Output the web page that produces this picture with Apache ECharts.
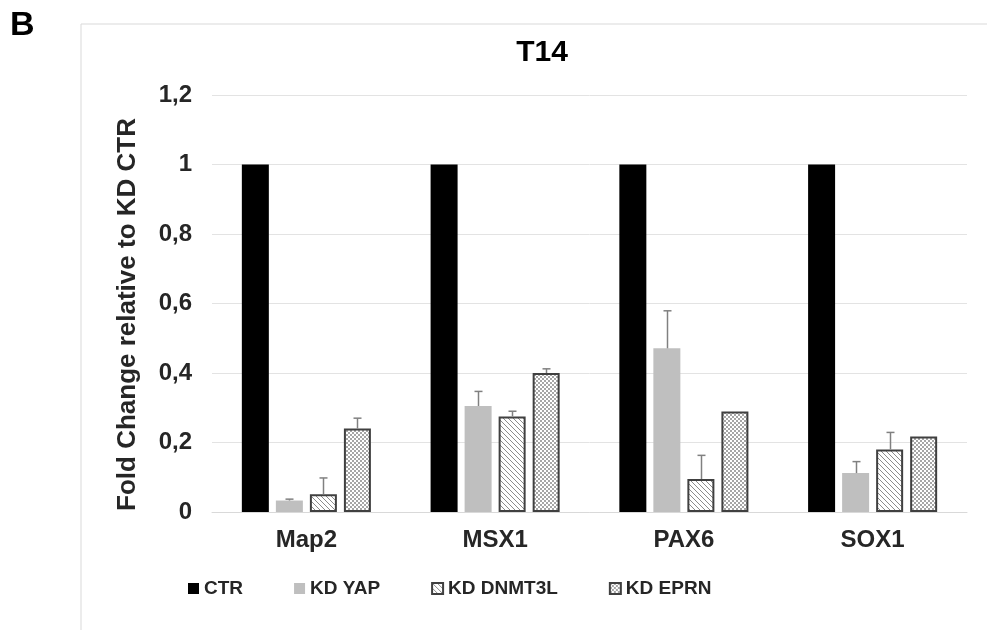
<!DOCTYPE html>
<html>
<head>
<meta charset="utf-8">
<script src="https://cdn.jsdelivr.net/npm/echarts@6/dist/echarts.min.js"></script>
<style>
  html, body { margin: 0; padding: 0; background: #fff; }
  #chart { width: 987px; height: 630px; }
</style>
</head>
<body>
<div id="chart"></div>
<script>
// data
const genes = ['Map2', 'MSX1', 'PAX6', 'SOX1'];
const seriesNames = ['CTR', 'KD YAP', 'KD DNMT3L', 'KD EPRN'];
const ctrValues = [1, 1, 1, 1];
const yapValues = [0.033, 0.305, 0.471, 0.112];
const dnmt3lValues = [0.051, 0.275, 0.095, 0.18];
const eprnValues = [0.24, 0.4, 0.289, 0.217];
const yapErrors = [0.004, 0.042, 0.108, 0.033];
const dnmt3lErrors = [0.047, 0.015, 0.068, 0.049];
const eprnErrors = [0.03, 0.012, 0, 0];

const barWidth = 27;
const barStep = 34;

// hatch pattern (diagonal lines)
function makeHatch() {
  const s = 5;
  const c = document.createElement('canvas');
  c.width = s; c.height = s;
  const ctx = c.getContext('2d');
  ctx.fillStyle = '#fff';
  ctx.fillRect(0, 0, s, s);
  ctx.strokeStyle = '#8c8c8c';
  ctx.lineWidth = 1;
  for (let k = -s; k <= s; k += s) {
    ctx.beginPath();
    ctx.moveTo(k, 0);
    ctx.lineTo(k + s, s);
    ctx.stroke();
  }
  return c;
}

// checker pattern
function makeChecker() {
  const c = document.createElement('canvas');
  c.width = 4; c.height = 4;
  const ctx = c.getContext('2d');
  ctx.fillStyle = '#fff';
  ctx.fillRect(0, 0, 4, 4);
  ctx.fillStyle = '#a6a6a6';
  ctx.fillRect(0, 0, 2, 2);
  ctx.fillRect(2, 2, 2, 2);
  return c;
}

const myChart = echarts.init(document.getElementById('chart'));

const allValues = [ctrValues, yapValues, dnmt3lValues, eprnValues];
const allErrors = [null, yapErrors, dnmt3lErrors, eprnErrors];
const errorData = [];
allErrors.forEach((errs, si) => {
  if (!errs) return;
  errs.forEach((e, ci) => {
    if (e > 0) errorData.push([ci, allValues[si][ci], e, si]);
  });
});

const fmt = v => {
  if (v === 0) return '0';
  return String(Number(v.toFixed(1))).replace('.', ',');
};

const labelFont = { fontFamily: 'Liberation Sans, Arial, sans-serif', fontWeight: 'bold', color: '#262626' };

const option = {
  animation: false,
  backgroundColor: '#fff',
  title: {
    text: 'T14',
    left: 537,
    top: 33,
    textAlign: 'center',
    textStyle: { ...labelFont, fontSize: 30, color: '#000' }
  },
  legend: {
    data: seriesNames,
    left: 183,
    top: 574,
    icon: 'rect',
    itemWidth: 11,
    itemHeight: 11,
    itemGap: 51,
    textStyle: { ...labelFont, fontSize: 19 }
  },
  grid: {
    left: 212,
    right: 20,
    top: 95,
    bottom: 118,
    containLabel: false,
    outerBoundsMode: 'none'
  },
  graphic: [
    { type: 'line', shape: { x1: 81, y1: 24, x2: 987, y2: 24 }, style: { stroke: '#d9d9d9', lineWidth: 1 } },
    { type: 'line', shape: { x1: 81, y1: 24, x2: 81, y2: 630 }, style: { stroke: '#d9d9d9', lineWidth: 1 } },
    { type: 'text', left: 10, top: 9, style: { text: 'B', font: 'bold 34px Liberation Sans, Arial, sans-serif', fill: '#000' } }
  ],
  xAxis: {
    type: 'category',
    data: genes,
    axisLine: { lineStyle: { color: '#d9d9d9', width: 1 } },
    axisTick: { show: false },
    axisLabel: { ...labelFont, fontSize: 24, margin: 16 }
  },
  yAxis: {
    type: 'value',
    min: 0,
    max: 1.2,
    interval: 0.2,
    name: 'Fold Change relative to KD CTR',
    nameLocation: 'middle',
    nameRotate: 90,
    nameGap: 71,
    nameTextStyle: { ...labelFont, fontSize: 26, padding: [0, 22, 0, 0] },
    axisLine: { show: false },
    axisTick: { show: false },
    splitLine: { lineStyle: { color: '#e3e3e3', width: 1 } },
    axisLabel: { ...labelFont, fontSize: 24, margin: 20, formatter: fmt }
  },
  series: [
    {
      name: 'CTR', type: 'bar', data: ctrValues,
      barWidth: barWidth, barGap: '26%',
      itemStyle: { color: '#000' }
    },
    {
      name: 'KD YAP', type: 'bar', data: yapValues,
      barWidth: barWidth, barGap: '26%',
      itemStyle: { color: '#bfbfbf' }
    },
    {
      name: 'KD DNMT3L', type: 'bar', data: dnmt3lValues,
      barWidth: barWidth, barGap: '26%',
      itemStyle: { color: { image: makeHatch(), repeat: 'repeat' }, borderColor: '#404040', borderWidth: 2 }
    },
    {
      name: 'KD EPRN', type: 'bar', data: eprnValues,
      barWidth: barWidth, barGap: '26%',
      itemStyle: { color: { image: makeChecker(), repeat: 'repeat' }, borderColor: '#404040', borderWidth: 2 }
    },
    {
      // error bars (upper half only)
      name: 'errors', type: 'custom', data: errorData, z: 5,
      renderItem: (params, api) => {
        const ci = api.value(0);
        const v = api.value(1);
        const e = api.value(2);
        const si = api.value(3);
        const off = (si - 1.5) * barStep;
        const p0 = api.coord([ci, v]);
        const p1 = api.coord([ci, v + e]);
        const x = Math.round(p0[0] + off) + 0.5;
        const style = { stroke: '#808080', lineWidth: 1.5 };
        return {
          type: 'group',
          children: [
            { type: 'line', shape: { x1: x, y1: p0[1], x2: x, y2: p1[1] }, style },
            { type: 'line', shape: { x1: x - 4, y1: p1[1], x2: x + 4, y2: p1[1] }, style }
          ]
        };
      }
    }
  ]
};

myChart.setOption(option);
</script>
</body>
</html>
